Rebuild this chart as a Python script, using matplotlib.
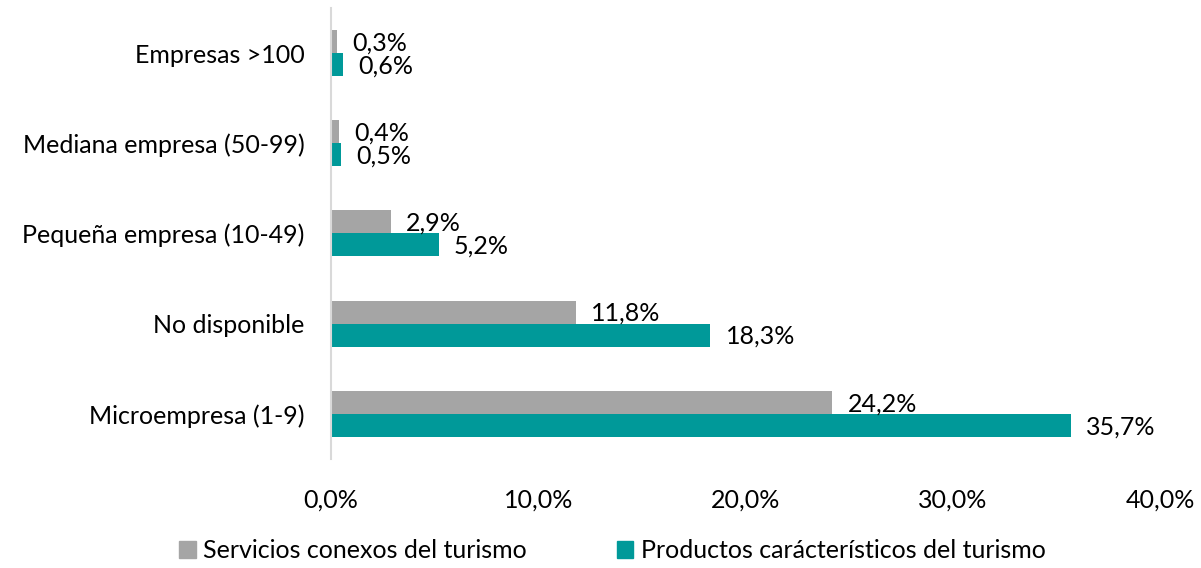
import matplotlib.pyplot as plt
import numpy as np
from matplotlib.patches import Patch

plt.rcParams['font.family'] = ['Lato', 'DejaVu Sans']

categories = ["Microempresa (1-9)", "No disponible", "Pequeña empresa (10-49)",
              "Mediana empresa (50-99)", "Empresas >100"]
servicios = [24.2, 11.8, 2.9, 0.4, 0.3]
productos = [35.7, 18.3, 5.2, 0.5, 0.6]
series_names = ["Servicios conexos del turismo", "Productos carácterísticos del turismo"]
x_ticks = [0, 10, 20, 30, 40]

gray = "#A5A5A5"
teal = "#009999"
fs = 18


def fmt(v):
    return f"{v:.1f}%".replace(".", ",")


fig = plt.figure(figsize=(12.01, 5.68), dpi=100)
ax = fig.add_axes([0.2756, 0.192, 0.9658 - 0.2756, 0.986 - 0.192])

y = np.arange(len(categories))
h = 0.255
ax.barh(y + h / 2, servicios, height=h, color=gray)
ax.barh(y - h / 2, productos, height=h, color=teal)

for yi, v in zip(y, servicios):
    ax.annotate(fmt(v), (v, yi + h / 2), xytext=(11, -1), textcoords="offset points",
                va="center", ha="left", fontsize=fs)
for yi, v in zip(y, productos):
    ax.annotate(fmt(v), (v, yi - h / 2), xytext=(11, -1), textcoords="offset points",
                va="center", ha="left", fontsize=fs)

ax.set_xlim(0, 40)
ax.set_ylim(-0.5, len(categories) - 0.5)
ax.set_xticks(x_ticks)
ax.set_xticklabels([fmt(t) for t in x_ticks], fontsize=fs)
ax.set_yticks(y)
ax.set_yticklabels(categories, fontsize=fs)
ax.tick_params(axis="both", length=0)
ax.tick_params(axis="x", pad=21)
ax.tick_params(axis="y", pad=19)

for s in ["top", "right", "bottom"]:
    ax.spines[s].set_visible(False)
ax.spines["left"].set_color("#D9D9D9")
ax.spines["left"].set_linewidth(1.5)

handles = [Patch(color=gray), Patch(color=teal)]
fig.legend(handles, series_names, loc="center", bbox_to_anchor=(0.51, 0.03), ncol=2,
           frameon=False, fontsize=fs, handlelength=0.65, handleheight=0.65,
           handletextpad=0.3, columnspacing=3.6)

fig.savefig("out.png", dpi=100)
